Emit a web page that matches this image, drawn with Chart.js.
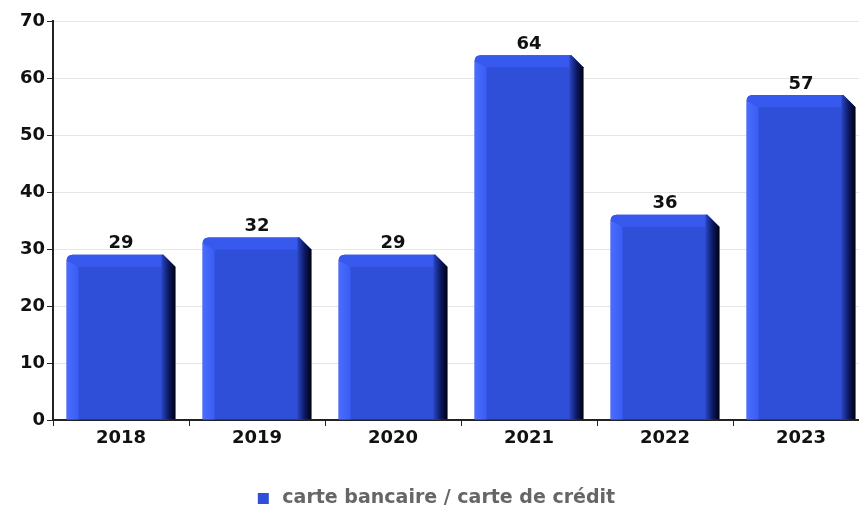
<!DOCTYPE html>
<html>
<head>
<meta charset="utf-8">
<script src="https://cdn.jsdelivr.net/npm/chart.js@4.4.0/dist/chart.umd.min.js"></script>
<style>
    html, body { margin: 0; padding: 0; background: #fff; overflow: hidden; }
    #wrap { width: 859px; height: 506px; overflow: hidden; }
    #box { width: 887px; height: 506px; }
</style>
</head>
<body>
<div id="wrap"><div id="box"><canvas id="chart"></canvas></div></div>
<script>
const years = ["2018", "2019", "2020", "2021", "2022", "2023"];
const counts = [29, 32, 29, 64, 36, 57];
const seriesName = "carte bancaire / carte de crédit";
const yTicks = [0, 10, 20, 30, 40, 50, 60, 70];

// bars get a fake 3D look: bright left edge, lighter top strip, dark right side
const bar3d = {
    id: "bar3d",
    beforeDatasetDraw(chart, args) {
        const ctx = chart.ctx;
        const meta = args.meta;
        ctx.save();
        meta.data.forEach((bar, i) => {
            const l = bar.x - bar.width / 2;
            const r = bar.x + bar.width / 2;
            const t = bar.y;
            const b = bar.base;
            const d = 12;
            const rad = 6;

            // main face
            ctx.fillStyle = "#2f4fd8";
            ctx.beginPath();
            ctx.moveTo(l, b);
            ctx.lineTo(l, t + rad);
            ctx.quadraticCurveTo(l, t, l + rad, t);
            ctx.lineTo(r - d, t);
            ctx.lineTo(r, t + d);
            ctx.lineTo(r, b);
            ctx.closePath();
            ctx.fill();

            // top strip
            ctx.fillStyle = "#3859ee";
            ctx.beginPath();
            ctx.moveTo(l + rad, t);
            ctx.lineTo(r - d, t);
            ctx.lineTo(r - d, t + d);
            ctx.lineTo(l + d, t + d);
            ctx.lineTo(l, t + rad);
            ctx.quadraticCurveTo(l, t, l + rad, t);
            ctx.closePath();
            ctx.fill();

            // left strip
            let g = ctx.createLinearGradient(l, 0, l + d, 0);
            g.addColorStop(0, "#4a6dff");
            g.addColorStop(1, "#3a5cf2");
            ctx.fillStyle = g;
            ctx.beginPath();
            ctx.moveTo(l, t + rad);
            ctx.lineTo(l + d, t + d);
            ctx.lineTo(l + d, b);
            ctx.lineTo(l, b);
            ctx.closePath();
            ctx.fill();

            // dark right side
            g = ctx.createLinearGradient(r - d - 2, 0, r, 0);
            g.addColorStop(0, "#2a46c4");
            g.addColorStop(0.5, "#0d1a66");
            g.addColorStop(1, "#000010");
            ctx.fillStyle = g;
            ctx.beginPath();
            ctx.moveTo(r - d - 2, t);
            ctx.lineTo(r - d, t);
            ctx.lineTo(r, t + d);
            ctx.lineTo(r, b);
            ctx.lineTo(r - d - 2, b);
            ctx.closePath();
            ctx.fill();

            // value on top
            ctx.fillStyle = "#111";
            ctx.font = "bold 18px 'DejaVu Sans'";
            ctx.textAlign = "center";
            ctx.textBaseline = "bottom";
            ctx.fillText(String(counts[i]), bar.x, t - 2);
        });
        ctx.restore();
        return false;
    }
};

new Chart(document.getElementById("chart"), {
    type: "bar",
    data: {
        labels: years,
        datasets: [{
            label: seriesName,
            data: counts,
            backgroundColor: "#2f4fd8",
            borderWidth: 0,
        }]
    },
    options: {
        responsive: true,
        maintainAspectRatio: false,
        animation: false,
        layout: { padding: { top: 21, right: 18, left: 0, bottom: -12 } },
        datasets: { bar: { barPercentage: 0.8, categoryPercentage: 1 } },
        scales: {
            x: {
                afterFit: scale => { scale.height = 67; },
                grid: { drawOnChartArea: false, tickLength: 6, color: "#222", offset: true },
                border: { color: "#222", width: 2 },
                ticks: { color: "#111", font: { family: "DejaVu Sans", size: 18, weight: "bold" }, padding: 2 },
            },
            y: {
                min: 0,
                max: 70,
                afterBuildTicks: scale => { scale.ticks = yTicks.map(v => ({ value: v })); },
                afterFit: scale => { scale.width = 53; },
                grid: { color: "#e6e6e6", tickColor: "#222", tickLength: 6 },
                border: { color: "#222", width: 2 },
                ticks: { color: "#111", font: { family: "DejaVu Sans", size: 18, weight: "bold" }, padding: 2 },
            }
        },
        plugins: {
            legend: {
                position: "bottom",
                labels: {
                    boxWidth: 19,
                    boxHeight: 19,
                    padding: 2,
                    color: "#666",
                    font: { family: "DejaVu Sans", size: 19, weight: "bold" },
                    // white border shrinks the visible swatch and widens the gap before the text
                    generateLabels: () => [{
                        text: seriesName,
                        fillStyle: "#2f4fd8",
                        strokeStyle: "#fff",
                        fontColor: "#666",
                        lineWidth: 8,
                        hidden: false,
                        datasetIndex: 0,
                    }],
                }
            },
            tooltip: { enabled: false },
        }
    },
    plugins: [bar3d]
});
</script>
</body>
</html>
